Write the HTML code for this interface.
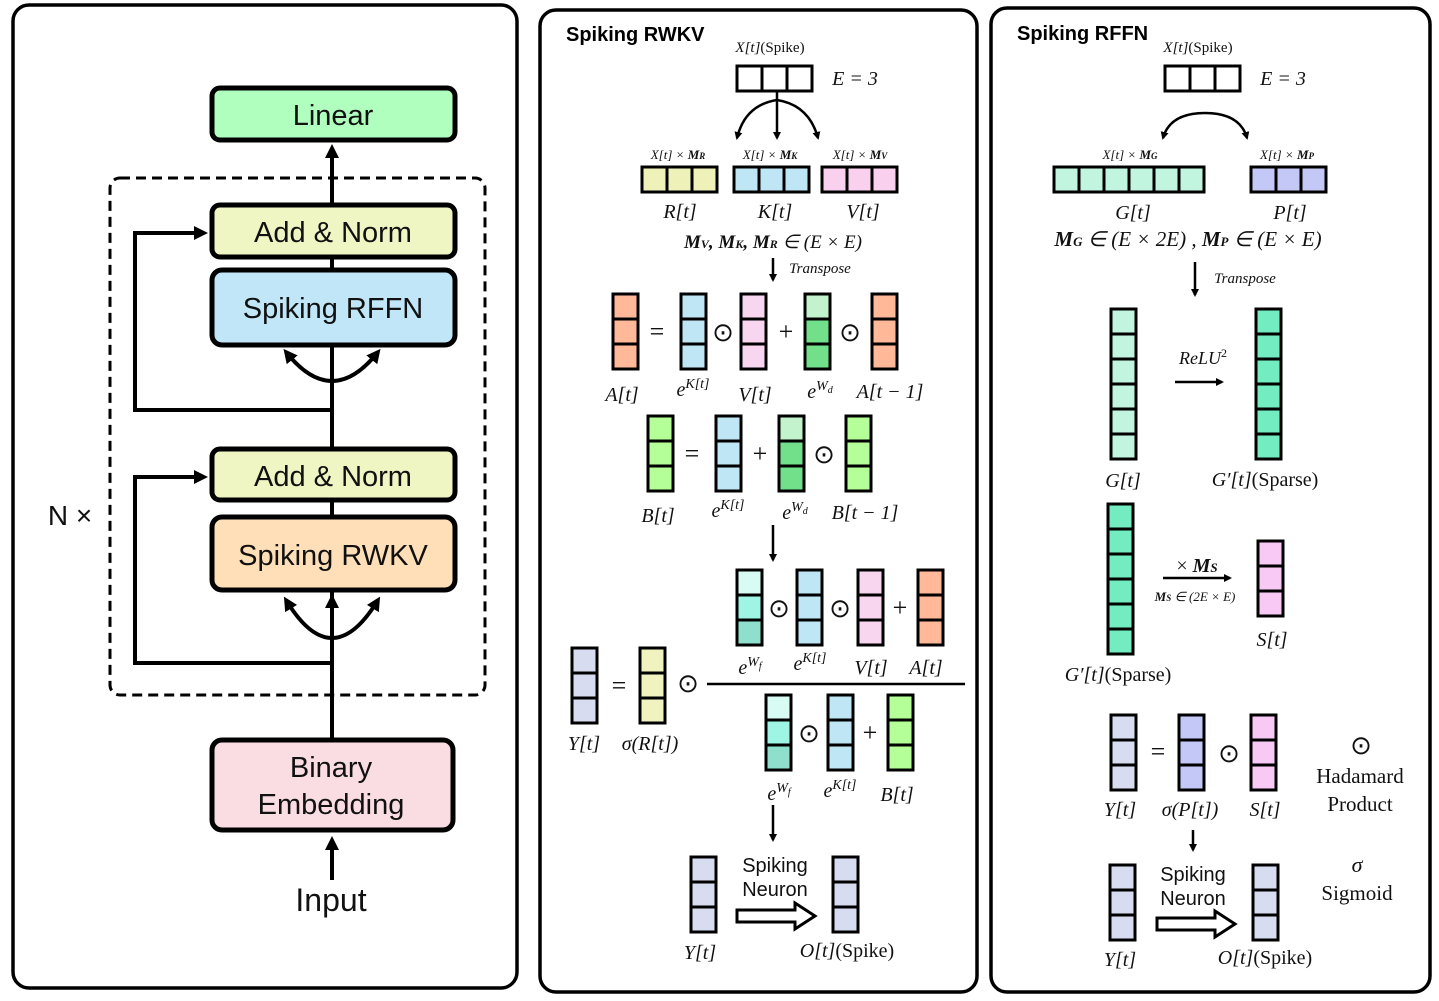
<!DOCTYPE html>
<html><head><meta charset="utf-8"><style>
body{margin:0;background:#fff}
svg{display:block}
.s{font-family:"Liberation Sans",sans-serif}
.m{font-family:"Liberation Serif",serif;font-style:italic}
.r{font-family:"Liberation Serif",serif}
</style></head><body>
<svg id="g" width="1439" height="1001" viewBox="0 0 1439 1001" xmlns="http://www.w3.org/2000/svg">
<defs><marker id="ah" markerWidth="8" markerHeight="8" refX="6" refY="4" orient="auto" markerUnits="userSpaceOnUse"><path d="M0,0 L8,4 L0,8 z" fill="#000"/></marker>
<marker id="ah2" markerWidth="14" markerHeight="14" refX="10" refY="7" orient="auto-start-reverse" markerUnits="userSpaceOnUse"><path d="M0,0 L14,7 L0,14 z" fill="#000"/></marker></defs>
<!-- panels -->
<rect x="13" y="5" width="504" height="983" rx="16" fill="none" stroke="#000" stroke-width="3.5"/>
<rect x="540" y="10" width="437" height="982" rx="16" fill="none" stroke="#000" stroke-width="3.5"/>
<rect x="991" y="8" width="439" height="984" rx="16" fill="none" stroke="#000" stroke-width="3.5"/>

<!-- LEFT -->
<g stroke="#000" stroke-width="4" fill="none">
<line x1="332" y1="740" x2="332" y2="148" marker-end="url(#ah2)"/>
<polyline points="332,663 135,663 135,477 204,477" marker-end="url(#ah2)"/>
<polyline points="332,410 135,410 135,233 204,233" marker-end="url(#ah2)"/>
<line x1="332" y1="880" x2="332" y2="840" marker-end="url(#ah2)"/>
<path d="M286,600 Q332,676 378,600" marker-start="url(#ah2)" marker-end="url(#ah2)"/>
<line x1="332" y1="640" x2="332" y2="598" marker-end="url(#ah2)"/>
<path d="M286,352 Q332,410 378,352" marker-start="url(#ah2)" marker-end="url(#ah2)"/>
</g>
<rect x="110" y="178" width="375" height="517" rx="10" fill="none" stroke="#000" stroke-width="3" stroke-dasharray="10,6"/>
<g stroke="#000" stroke-width="5">
<rect x="212" y="88" width="243" height="52" rx="8" fill="#b0ffbf"/>
<rect x="212" y="205" width="243" height="52" rx="8" fill="#eff5c3"/>
<rect x="212" y="270" width="243" height="75" rx="10" fill="#c0e6f7"/>
<rect x="212" y="449" width="243" height="51" rx="8" fill="#eff5c3"/>
<rect x="212" y="517" width="243" height="73" rx="10" fill="#ffdfb8"/>
<rect x="212" y="740" width="241" height="90" rx="10" fill="#fadde3"/>
</g>
<g class="s" font-size="29" text-anchor="middle" fill="#111">
<text x="333" y="125">Linear</text>
<text x="333" y="242">Add &amp; Norm</text>
<text x="333" y="318">Spiking RFFN</text>
<text x="333" y="486">Add &amp; Norm</text>
<text x="333" y="565">Spiking RWKV</text>
<text x="331" y="777">Binary</text>
<text x="331" y="814">Embedding</text>
<text x="331" y="911" font-size="32">Input</text>
<text x="70" y="525" font-size="28">N ×</text>
</g>

<!-- MIDDLE -->
<text class="s" x="566" y="41" font-size="20" font-weight="bold">Spiking RWKV</text>
<text class="s" x="1017" y="40" font-size="20" font-weight="bold">Spiking RFFN</text>
<g stroke="#000" stroke-width="2.5" fill="none">
<line x1="777" y1="92" x2="777" y2="138" marker-end="url(#ah)"/>
<path d="M777,100 Q745,105 737,138" marker-end="url(#ah)"/>
<path d="M777,100 Q809,105 818,138" marker-end="url(#ah)"/>
<line x1="773" y1="258" x2="773" y2="280" marker-end="url(#ah)"/>
<line x1="773" y1="525" x2="773" y2="560" marker-end="url(#ah)"/>
<line x1="707" y1="684" x2="965" y2="684"/>
<line x1="773" y1="805" x2="773" y2="840" marker-end="url(#ah)"/>
<polygon points="737,910 795,910 795,903 815,916 795,929 795,922 737,922" stroke-width="3"/>
<path d="M1205,113 Q1170,113 1163,138" marker-end="url(#ah)"/>
<path d="M1205,113 Q1240,113 1247,138" marker-end="url(#ah)"/>
<line x1="1195" y1="262" x2="1195" y2="295" marker-end="url(#ah)"/>
<line x1="1175" y1="382" x2="1222" y2="382" marker-end="url(#ah)"/>
<line x1="1163" y1="578" x2="1230" y2="578" marker-end="url(#ah)"/>
<line x1="1193" y1="830" x2="1193" y2="850" marker-end="url(#ah)"/>
<polygon points="1157,918 1215,918 1215,911 1235,924 1215,937 1215,930 1157,930" stroke-width="3"/>
</g>
<g id="vecs"></g>
<g class="m" font-size="20" text-anchor="middle" fill="#111">
<text x="770" y="52" font-size="15">X[t]<tspan font-style="normal">(Spike)</tspan></text>
<text x="855" y="85">E = 3</text>
<text x="678" y="159" font-size="13">X[t] × <tspan font-weight="bold">M<tspan font-size="9">R</tspan></tspan></text>
<text x="770" y="159" font-size="13">X[t] × <tspan font-weight="bold">M<tspan font-size="9">K</tspan></tspan></text>
<text x="860" y="159" font-size="13">X[t] × <tspan font-weight="bold">M<tspan font-size="9">V</tspan></tspan></text>
<text x="680" y="218">R[t]</text><text x="775" y="218">K[t]</text><text x="863" y="218">V[t]</text>
<text x="773" y="248" font-size="19"><tspan font-weight="bold">M<tspan font-size="12">V</tspan>, M<tspan font-size="12">K</tspan>, M<tspan font-size="12">R</tspan></tspan> ∈ (E  × E)</text>
<text x="820" y="273" font-size="15">Transpose</text>
<text x="622" y="401">A[t]</text><text x="693" y="396">e<tspan font-size="14" dy="-8">K[t]</tspan></text><text x="755" y="401">V[t]</text><text x="820" y="398">e<tspan font-size="14" dy="-8">W</tspan><tspan font-size="10" dy="3">d</tspan></text><text x="890" y="398">A[t − 1]</text>
<text x="658" y="522">B[t]</text><text x="728" y="517">e<tspan font-size="14" dy="-8">K[t]</tspan></text><text x="795" y="519">e<tspan font-size="14" dy="-8">W</tspan><tspan font-size="10" dy="3">d</tspan></text><text x="865" y="519">B[t − 1]</text>
<text x="750" y="674">e<tspan font-size="14" dy="-8">W</tspan><tspan font-size="10" dy="3">f</tspan></text><text x="810" y="670">e<tspan font-size="14" dy="-8">K[t]</tspan></text><text x="871" y="674">V[t]</text><text x="926" y="674">A[t]</text>
<text x="584" y="750">Y[t]</text><text x="650" y="750">σ(R[t])</text>
<text x="779" y="800">e<tspan font-size="14" dy="-8">W</tspan><tspan font-size="10" dy="3">f</tspan></text><text x="840" y="797">e<tspan font-size="14" dy="-8">K[t]</tspan></text><text x="897" y="801">B[t]</text>
<text x="700" y="959">Y[t]</text><text x="847" y="957">O[t]<tspan font-style="normal">(Spike)</tspan></text>
<!-- right -->
<text x="1198" y="52" font-size="15">X[t]<tspan font-style="normal">(Spike)</tspan></text>
<text x="1283" y="85">E = 3</text>
<text x="1130" y="159" font-size="13">X[t] × <tspan font-weight="bold">M<tspan font-size="9">G</tspan></tspan></text>
<text x="1287" y="159" font-size="13">X[t] × <tspan font-weight="bold">M<tspan font-size="9">P</tspan></tspan></text>
<text x="1133" y="219">G[t]</text><text x="1290" y="219">P[t]</text>
<text x="1188" y="246" font-size="21"><tspan font-weight="bold">M<tspan font-size="13">G</tspan></tspan> ∈ (E  × 2E) , <tspan font-weight="bold">M<tspan font-size="13">P</tspan></tspan> ∈ (E  × E)</text>
<text x="1245" y="283" font-size="15">Transpose</text>
<text x="1203" y="364" font-size="18">ReLU<tspan font-size="12" dy="-7" font-style="normal">2</tspan></text>
<text x="1123" y="487">G[t]</text><text x="1265" y="486"><tspan>G′[t]</tspan><tspan font-style="normal">(Sparse)</tspan></text>
<text x="1197" y="572"><tspan font-style="normal">× </tspan><tspan font-weight="bold">M<tspan font-size="13">S</tspan></tspan></text>
<text x="1195" y="601" font-size="13"><tspan font-weight="bold">M<tspan font-size="9">S</tspan></tspan> ∈ (2E  × E)</text>
<text x="1272" y="646">S[t]</text>
<text x="1118" y="681">G′[t]<tspan font-style="normal">(Sparse)</tspan></text>
<text x="1120" y="816">Y[t]</text><text x="1190" y="816">σ(P[t])</text><text x="1265" y="816">S[t]</text>
<text x="1120" y="966">Y[t]</text><text x="1265" y="964">O[t]<tspan font-style="normal">(Spike)</tspan></text>
<text x="1357" y="872" font-size="22">σ</text>
</g>
<g class="r" font-size="26" text-anchor="middle" fill="#111">
<text x="657" y="340">=</text><text x="723" y="341">⊙</text><text x="786" y="340">+</text><text x="850" y="341">⊙</text>
<text x="692" y="462">=</text><text x="760" y="462">+</text><text x="824" y="463">⊙</text>
<text x="779" y="617">⊙</text><text x="840" y="617">⊙</text><text x="900" y="616">+</text>
<text x="619" y="694">=</text><text x="688" y="692">⊙</text>
<text x="809" y="742">⊙</text><text x="870" y="741">+</text>
<text x="1158" y="760">=</text><text x="1229" y="762">⊙</text>
<text x="1361" y="754">⊙</text>
<text x="1360" y="783" font-size="21">Hadamard</text>
<text x="1360" y="811" font-size="21">Product</text>
<text x="1357" y="900" font-size="21">Sigmoid</text>
</g>
<g class="s" font-size="20" text-anchor="middle" fill="#111">
<text x="775" y="872">Spiking</text><text x="775" y="896">Neuron</text>
<text x="1193" y="881">Spiking</text><text x="1193" y="905">Neuron</text>
</g>
</svg>
<script>
var NS="http://www.w3.org/2000/svg",G=document.getElementById("vecs");
function v(x,y,cols,horiz,w,h){w=w||25;h=h||25;
 for(var i=0;i<cols.length;i++){var r=document.createElementNS(NS,"rect");
  r.setAttribute("x",horiz?x+i*w:x);r.setAttribute("y",horiz?y:y+i*h);
  r.setAttribute("width",w);r.setAttribute("height",h);r.setAttribute("fill",cols[i]);
  r.setAttribute("stroke","#000");r.setAttribute("stroke-width","3");G.appendChild(r);}}
function c(n,col){var a=[];for(var i=0;i<n;i++)a.push(col);return a;}
var W="#ffffff",OR="#ffb898",BL="#bfe6f5",PK="#f9d6ef",WD=["#c2f3cc","#72e08a","#72e08a"],GR="#b5ff99",WF=["#d8fcf4","#9ff5e3","#8ee0cc"],YL="#f0f3c0",LV="#d8dcf0",GT="#c2f5e0",GP="#72ecc0",PP="#c3c8f7",SP="#f8c9f5";
v(737,66,c(3,W),1);v(642,167,c(3,"#eef2b8"),1);v(734,167,c(3,BL),1);v(822,167,c(3,"#f9d0ee"),1);
v(613,294,c(3,OR));v(681,294,c(3,BL));v(741,294,c(3,PK));v(805,294,WD);v(872,294,c(3,OR));
v(648,416,c(3,GR));v(716,416,c(3,BL));v(779,416,WD);v(846,416,c(3,GR));
v(737,570,WF);v(797,570,c(3,BL));v(858,570,c(3,PK));v(918,570,c(3,OR));
v(572,648,c(3,LV));v(640,648,c(3,YL));
v(766,695,WF);v(828,695,c(3,BL));v(888,695,c(3,GR));
v(691,857,c(3,LV));v(833,857,c(3,LV));
v(1165,66,c(3,W),1);v(1054,167,c(6,GT),1);v(1251,167,c(3,PP),1);
v(1111,309,c(6,GT));v(1256,309,c(6,GP));
v(1108,504,c(6,GP));v(1258,541,c(3,SP));
v(1111,715,c(3,LV));v(1179,715,c(3,PP));v(1251,715,c(3,SP));
v(1110,865,c(3,LV));v(1253,865,c(3,LV));
</script>
</body></html>
